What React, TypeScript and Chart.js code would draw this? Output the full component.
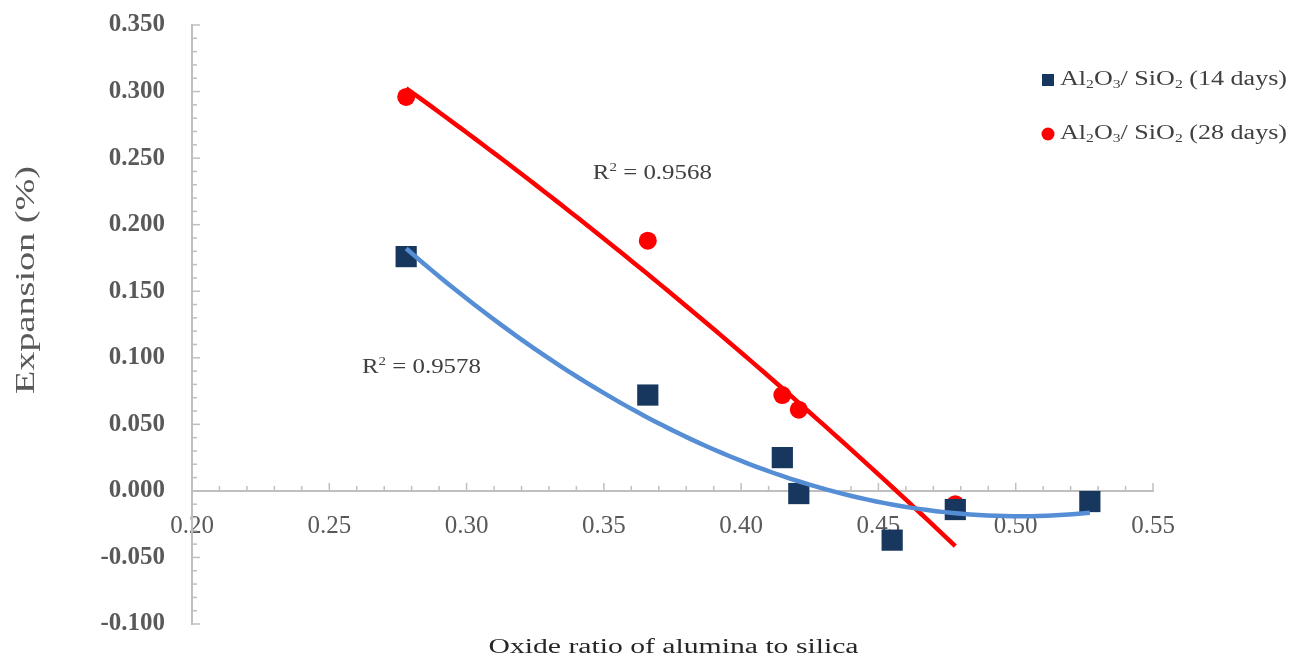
import React, { useEffect, useRef } from 'react';
import { Chart, registerables } from 'chart.js';

Chart.register(...registerables);

// ---- data ----
const xTickLabels = ['0.20', '0.25', '0.30', '0.35', '0.40', '0.45', '0.50', '0.55'];
const yTickLabels = ['-0.100', '-0.050', '0.000', '0.050', '0.100', '0.150', '0.200', '0.250', '0.300', '0.350'];

const ratio14 = [0.278, 0.366, 0.415, 0.421, 0.455, 0.478, 0.527];
const expansion14 = [0.176, 0.072, 0.025, -0.002, -0.037, -0.014, -0.008];

const ratio28 = [0.278, 0.366, 0.415, 0.421, 0.455, 0.478];
const expansion28 = [0.296, 0.188, 0.072, 0.061, -0.037, -0.010];

const seriesLabels = ['Al\u2082O\u2083/ SiO\u2082 (14 days)', 'Al\u2082O\u2083/ SiO\u2082 (28 days)'];
const r2Texts = ['R\u00B2 = 0.9578', 'R\u00B2 = 0.9568'];
const r2Anchors = [
  { x: 0.2619, y: 0.0926 },
  { x: 0.346, y: 0.2382 },
];

const xTitle = 'Oxide ratio of alumina to silica';
const yTitle = 'Expansion (%)';

const NAVY = '#17375E';
const RED = '#FF0000';
const LIGHTBLUE = '#558ED5';
const AXIS = '#BFBFBF';
const SERIF = '"Liberation Serif", "Times New Roman", serif';

// least-squares quadratic trendline (as the spreadsheet's polynomial trendline)
function quadFit(xs: number[], ys: number[]) {
  const s = [0, 0, 0, 0, 0];
  const t = [0, 0, 0];
  for (let i = 0; i < xs.length; i++) {
    let p = 1;
    for (let k = 0; k < 5; k++) {
      s[k] += p;
      if (k < 3) t[k] += p * ys[i];
      p *= xs[i];
    }
  }
  const A = [
    [s[0], s[1], s[2], t[0]],
    [s[1], s[2], s[3], t[1]],
    [s[2], s[3], s[4], t[2]],
  ];
  for (let c = 0; c < 3; c++) {
    let piv = c;
    for (let r = c + 1; r < 3; r++) if (Math.abs(A[r][c]) > Math.abs(A[piv][c])) piv = r;
    [A[c], A[piv]] = [A[piv], A[c]];
    for (let r = 0; r < 3; r++) {
      if (r === c) continue;
      const f = A[r][c] / A[c][c];
      for (let k = c; k < 4; k++) A[r][k] -= f * A[c][k];
    }
  }
  return [A[0][3] / A[0][0], A[1][3] / A[1][1], A[2][3] / A[2][2]];
}

function trendPoints(xs: number[], ys: number[]) {
  const [a, b, c] = quadFit(xs, ys);
  const lo = Math.min(...xs);
  const hi = Math.max(...xs);
  const n = 80;
  const pts: { x: number; y: number }[] = [];
  for (let i = 0; i <= n; i++) {
    const x = lo + ((hi - lo) * i) / n;
    pts.push({ x, y: a + b * x + c * x * x });
  }
  return pts;
}

type Seg = { t: string; kind: 'n' | 'sub' | 'sup' };
function parseRich(text: string): Seg[] {
  const segs: Seg[] = [];
  for (const ch of text) {
    const code = ch.charCodeAt(0);
    let kind: Seg['kind'] = 'n';
    let t = ch;
    if (code >= 0x2080 && code <= 0x2089) {
      kind = 'sub';
      t = String(code - 0x2080);
    } else if (ch === '\u00B2') {
      kind = 'sup';
      t = '2';
    }
    const last = segs[segs.length - 1];
    if (last && last.kind === kind) last.t += t;
    else segs.push({ t, kind });
  }
  return segs;
}

function drawRich(
  ctx: CanvasRenderingContext2D,
  text: string,
  x: number,
  y: number,
  size: number,
  color: string,
  targetWidth: number,
  align: 'left' | 'center',
  rotate = false
) {
  const segs = parseRich(text);
  const fontFor = (k: Seg['kind']) => `${k === 'n' ? size : Math.round(size * 0.62)}px ${SERIF}`;
  let w = 0;
  for (const s of segs) {
    ctx.font = fontFor(s.kind);
    w += ctx.measureText(s.t).width;
  }
  const sc = targetWidth > 0 ? targetWidth / w : 1;
  ctx.save();
  ctx.translate(x, y);
  if (rotate) ctx.rotate(-Math.PI / 2);
  ctx.scale(sc, 1);
  ctx.fillStyle = color;
  ctx.textBaseline = 'middle';
  ctx.textAlign = 'left';
  let cx = align === 'center' ? -w / 2 : 0;
  for (const s of segs) {
    ctx.font = fontFor(s.kind);
    const dy = s.kind === 'sub' ? size * 0.22 : s.kind === 'sup' ? -size * 0.28 : 0;
    ctx.fillText(s.t, cx, dy);
    cx += ctx.measureText(s.t).width;
  }
  ctx.restore();
}

const decorPlugin = {
  id: 'decor',
  beforeDatasetsDraw(chart: any) {
    const { ctx, chartArea } = chart;
    const xs = chart.scales.x;
    const ys = chart.scales.y;
    ctx.save();
    ctx.strokeStyle = AXIS;
    ctx.lineWidth = 1.5;
    const x0 = chartArea.left;
    for (let i = -10; i <= 35; i++) {
      const py = ys.getPixelForValue(i / 100);
      const len = i % 5 === 0 ? 8 : 5;
      ctx.beginPath();
      ctx.moveTo(x0, py);
      ctx.lineTo(x0 + len, py);
      ctx.stroke();
    }
    const y0 = ys.getPixelForValue(0);
    for (let i = 20; i <= 55; i++) {
      const px = xs.getPixelForValue(i / 100);
      const len = i % 5 === 0 ? 8 : 5;
      ctx.beginPath();
      ctx.moveTo(px, y0);
      ctx.lineTo(px, y0 - len);
      ctx.stroke();
    }
    ctx.restore();
  },
  afterDraw(chart: any) {
    const { ctx, chartArea } = chart;
    const xs = chart.scales.x;
    const ys = chart.scales.y;
    // axis titles
    drawRich(ctx, yTitle, 27, 280, 28, '#595959', 228, 'center', true);
    drawRich(ctx, xTitle, (chartArea.left + chartArea.right) / 2 + 1, 648, 20, '#262626', 370, 'center');
    // R² labels
    r2Texts.forEach((t, i) => {
      drawRich(ctx, t, xs.getPixelForValue(r2Anchors[i].x), ys.getPixelForValue(r2Anchors[i].y), 20, '#404040', 119, 'left');
    });
    // legend
    const items = [
      { label: seriesLabels[0], color: NAVY, style: 'rect', y: 80 },
      { label: seriesLabels[1], color: RED, style: 'circle', y: 134 },
    ];
    const mx = 1048;
    items.forEach((it) => {
      ctx.save();
      ctx.fillStyle = it.color;
      if (it.style === 'rect') {
        ctx.fillRect(mx - 6, it.y - 6, 12, 12);
      } else {
        ctx.beginPath();
        ctx.arc(mx, it.y, 6.5, 0, Math.PI * 2);
        ctx.fill();
      }
      ctx.restore();
      drawRich(ctx, it.label, 1060, it.y, 20, '#404040', 227, 'left');
    });
  },
};

export default function App() {
  const ref = useRef<HTMLCanvasElement | null>(null);

  useEffect(() => {
    if (!ref.current) return;
    const pts14 = ratio14.map((x, i) => ({ x, y: expansion14[i] }));
    const pts28 = ratio28.map((x, i) => ({ x, y: expansion28[i] }));
    const chart = new Chart(ref.current, {
      type: 'scatter',
      data: {
        datasets: [
          {
            label: seriesLabels[0],
            data: pts14,
            pointStyle: 'rect',
            pointRadius: 15,
            backgroundColor: NAVY,
            borderColor: NAVY,
            borderWidth: 0,
            order: 2,
          },
          {
            label: seriesLabels[1],
            data: pts28,
            pointStyle: 'circle',
            pointRadius: 9,
            backgroundColor: RED,
            borderColor: RED,
            borderWidth: 0,
            order: 3,
          },
          {
            label: 'trend14',
            data: trendPoints(ratio14, expansion14),
            showLine: true,
            pointRadius: 0,
            borderColor: LIGHTBLUE,
            borderWidth: 4.5,
            tension: 0,
            order: 0,
          },
          {
            label: 'trend28',
            data: trendPoints(ratio28, expansion28),
            showLine: true,
            pointRadius: 0,
            borderColor: RED,
            borderWidth: 4.5,
            tension: 0,
            order: 1,
          },
        ],
      } as any,
      options: {
        animation: false,
        responsive: true,
        maintainAspectRatio: false,
        layout: { autoPadding: false, padding: { top: 25, right: 145, bottom: 35, left: 0 } },
        plugins: {
          legend: { display: false },
          tooltip: { enabled: false },
          title: { display: false },
        },
        scales: {
          x: {
            type: 'linear',
            min: 0.2,
            max: 0.55,
            position: { y: 0 } as any,
            grid: { display: false, drawTicks: false },
            border: { display: true, color: AXIS, width: 2 },
            afterBuildTicks: (scale: any) => {
              scale.ticks = xTickLabels.map((l) => ({ value: parseFloat(l) }));
            },
            afterFit: (scale: any) => {
              scale.height = 0;
              scale.paddingLeft = 0;
              scale.paddingRight = 0;
              scale.paddingTop = 0;
              scale.paddingBottom = 0;
            },
            ticks: {
              autoSkip: false,
              maxRotation: 0,
              padding: 21,
              color: '#595959',
              font: { family: SERIF, size: 25 },
              callback: (v: any) => Number(v).toFixed(2),
            },
          },
          y: {
            type: 'linear',
            min: -0.1,
            max: 0.35,
            grid: { display: false, drawTicks: false },
            border: { display: true, color: AXIS, width: 2 },
            afterBuildTicks: (scale: any) => {
              scale.ticks = yTickLabels.map((l) => ({ value: parseFloat(l) }));
            },
            afterFit: (scale: any) => {
              scale.width = 192;
              scale.paddingTop = 0;
              scale.paddingBottom = 0;
              scale.paddingLeft = 0;
              scale.paddingRight = 0;
            },
            ticks: {
              padding: 27,
              color: '#595959',
              font: { family: SERIF, size: 25, weight: 'bold' },
              callback: (v: any) => Number(v).toFixed(3),
            },
          },
        },
      } as any,
      plugins: [decorPlugin],
    });
    return () => chart.destroy();
  }, []);

  return (
    <div style={{ position: 'fixed', left: 0, top: 0, width: 1298, height: 659, background: '#ffffff' }}>
      <canvas ref={ref} />
    </div>
  );
}
